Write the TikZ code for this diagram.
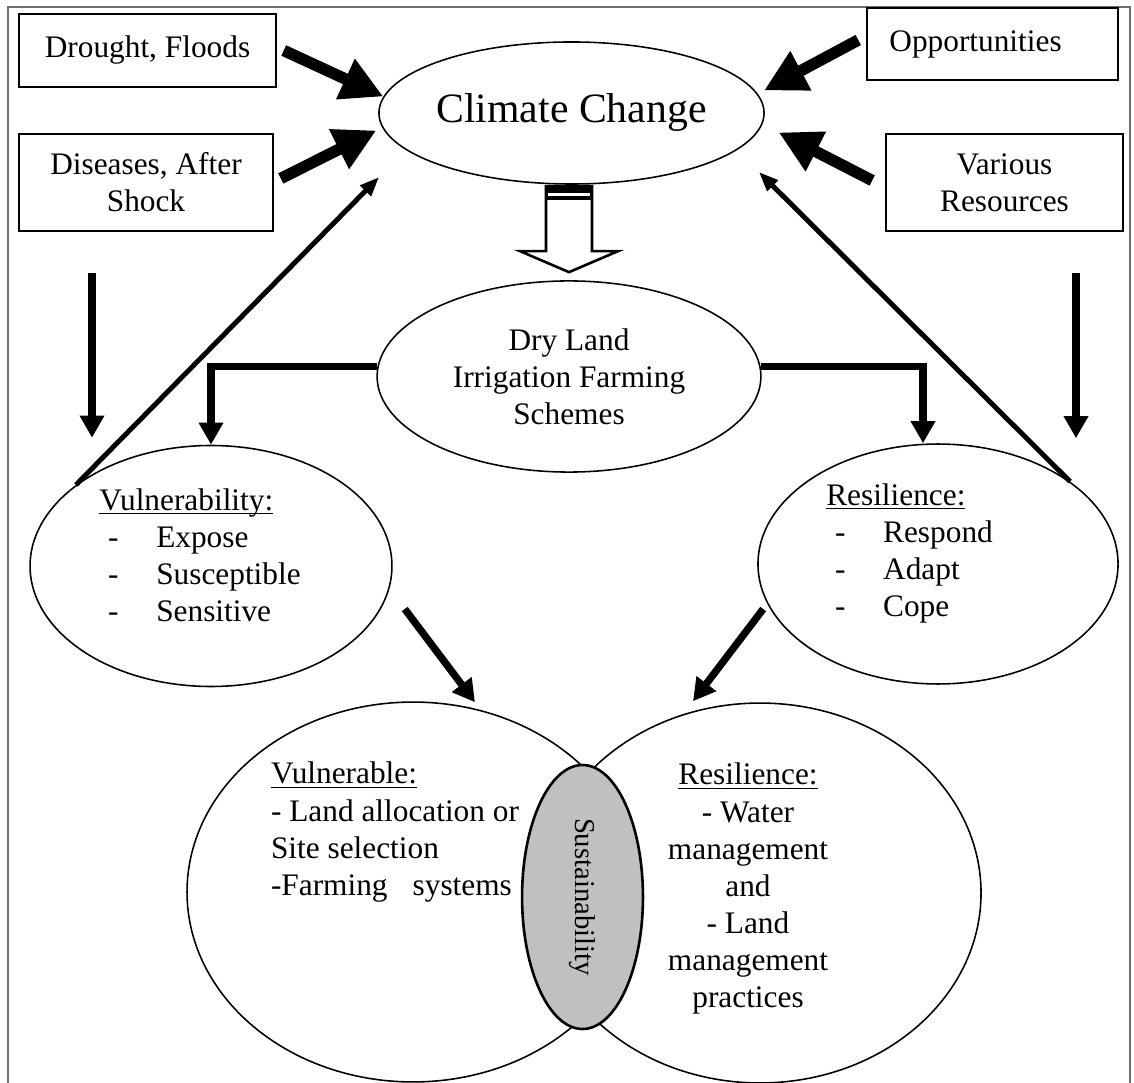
\documentclass[tikz,border=0pt]{standalone}
\usepackage{fontspec}
\setmainfont{Liberation Serif}
\usetikzlibrary{shapes.geometric, arrows.meta, positioning, calc}
\usepackage{xcolor}
\definecolor{cFrame}{RGB}{110, 110, 110}
\definecolor{cSust}{RGB}{192, 192, 192}
\newcommand{\ulhead}[1]{\underline{\smash{#1}}}
\newcommand{\dashitem}[1]{\makebox[21.8pt][l]{\hspace*{3.4pt}-}#1}

\begin{document}
\begin{tikzpicture}[
    x=0.383pt, y=-0.383pt,
    font=\fontsize{12}{14.2}\selectfont,
    box/.style={draw, line width=0.6pt, align=center, inner sep=0pt},
    oval/.style={draw, ellipse, line width=0.6pt, align=center, inner sep=0pt},
    sustoval/.style={draw, ellipse, line width=1pt, fill=cSust, inner sep=0pt},
    listtext/.style={align=left, inner sep=0pt},
    centertext/.style={align=center, inner sep=0pt},
    bigarrow/.style={-{Triangle[length=16pt, width=16pt]}, line width=4.4pt},
    midarrow/.style={-{Triangle[length=8.5pt, width=9pt]}, line width=2.8pt},
    thinarrow/.style={-{Triangle[length=7.5pt, width=5.5pt]}, line width=1.9pt},
    openarrow/.style={draw, line width=1pt, fill=white}
]

\useasboundingbox (0,0) rectangle (1134,1083);

% outer frame
\draw[cFrame, line width=0.65pt] (8,1100) -- (8,7) -- (1130,7) -- (1130,1100);

% boxes
\node[box, minimum width=98.4pt, minimum height=28pt] (drought) at (147.5,50.5) {Drought, Floods};
\node[box, minimum width=97.3pt, minimum height=37.2pt] (diseases) at (146,182.5) {Diseases, After\\Shock};
\node[box, minimum width=96.1pt, minimum height=27.6pt] (opport) at (992.5,44) {Opportunities\makebox[13pt]{}};
\node[box, minimum width=90.8pt, minimum height=37.2pt] (various) at (1004.5,182.5) {Various\\Resources};

% ellipses
\node[oval, minimum width=147.5pt, minimum height=54.4pt,
    label={[centertext, font=\fontsize{16}{19}\selectfont]center:Climate Change}] (climate) at (571.5,113) {};
\node[oval, minimum width=147pt, minimum height=73.2pt] (dry) at (569,376.5) {Dry Land\\Irrigation Farming\\Schemes};

\node[oval, minimum width=138.6pt, minimum height=92.3pt,
    label={[listtext, xshift=-4.2pt]center:{\ulhead{Vulnerability:}\\\dashitem{Expose}\\\dashitem{Susceptible}\\\dashitem{Sensitive}}}] (vulner) at (211,566) {};
\node[oval, minimum width=137.9pt, minimum height=91.9pt,
    label={[listtext, xshift=-10.9pt]center:{\ulhead{Resilience:}\\\dashitem{Respond}\\\dashitem{Adapt}\\\dashitem{Cope}}}] (resil) at (938,564) {};

\node[oval, minimum width=173.1pt, minimum height=145.5pt,
    label={[listtext, xshift=-6.9pt, yshift=18.8pt]center:{\ulhead{Vulnerable:}\\- Land allocation or\\Site selection\\-Farming\hspace{9.6pt}systems}}] (vulner2) at (413,892) {};
\node[oval, minimum width=169.3pt, minimum height=145.5pt,
    label={[centertext, xshift=-4.6pt, yshift=-2.5pt]center:{\ulhead{Resilience:}\\- Water\\management\\and\\- Land\\management\\practices}}] (resil2) at (760,893) {};

\node[sustoval, rotate=-90, minimum width=101.1pt, minimum height=46.3pt,
    font=\fontsize{11}{13}\selectfont] (sust) at (582.5,897) {Sustainability};

% open arrow from climate change down to the schemes
\begin{scope}[shift={(dry.north)}]
\draw[openarrow] (-23,-94) -- (-23,-29) -- (-49,-29) -- (0,-8) -- (49,-29) -- (23,-29) -- (23,-94) -- cycle;
\fill (-23,-94) rectangle (23,-80);
\fill[white] (-21,-87.5) rectangle (21,-84.5);
\end{scope}

% drivers into climate change
\draw[bigarrow] ($(drought.east)+(7,0)$) -- (climate.175);
\draw[bigarrow] ($(diseases.east)+(7,-4)$) -- ($(climate.185)+(-7,1)$);
\draw[bigarrow] ($(opport.west)+(-8,-4)$) -- ($(climate.7)+(9,0)$);
\draw[bigarrow] ($(various.west)+(-13,-2)$) -- ($(climate.-5)+(19,3)$);

% feedback
\draw[thinarrow] (vulner.149) -- ($(climate.west)+(1,64)$);
\draw[thinarrow] (resil.32) -- ($(climate.east)+(-6,59)$);

% down arrows
\draw[midarrow] ($(diseases.south)+(-54,41)$) -- ($(vulner.north)+(-119,-7)$);
\draw[midarrow] ($(various.south)+(71.5,41)$) -- ($(resil.north)+(138,-5)$);

\draw[midarrow] (dry.177) -| (vulner.north);
\draw[midarrow] (dry.3) -| ($(resil.north)+(-15,0)$);

\draw[midarrow] ($(vulner.east)+(12,43)$) -- ($(vulner2.north)+(62,1)$);
\draw[midarrow] ($(resil.west)+(6,45)$) -- ($(resil2.north)+(-67,-1)$);

\end{tikzpicture}
\end{document}
